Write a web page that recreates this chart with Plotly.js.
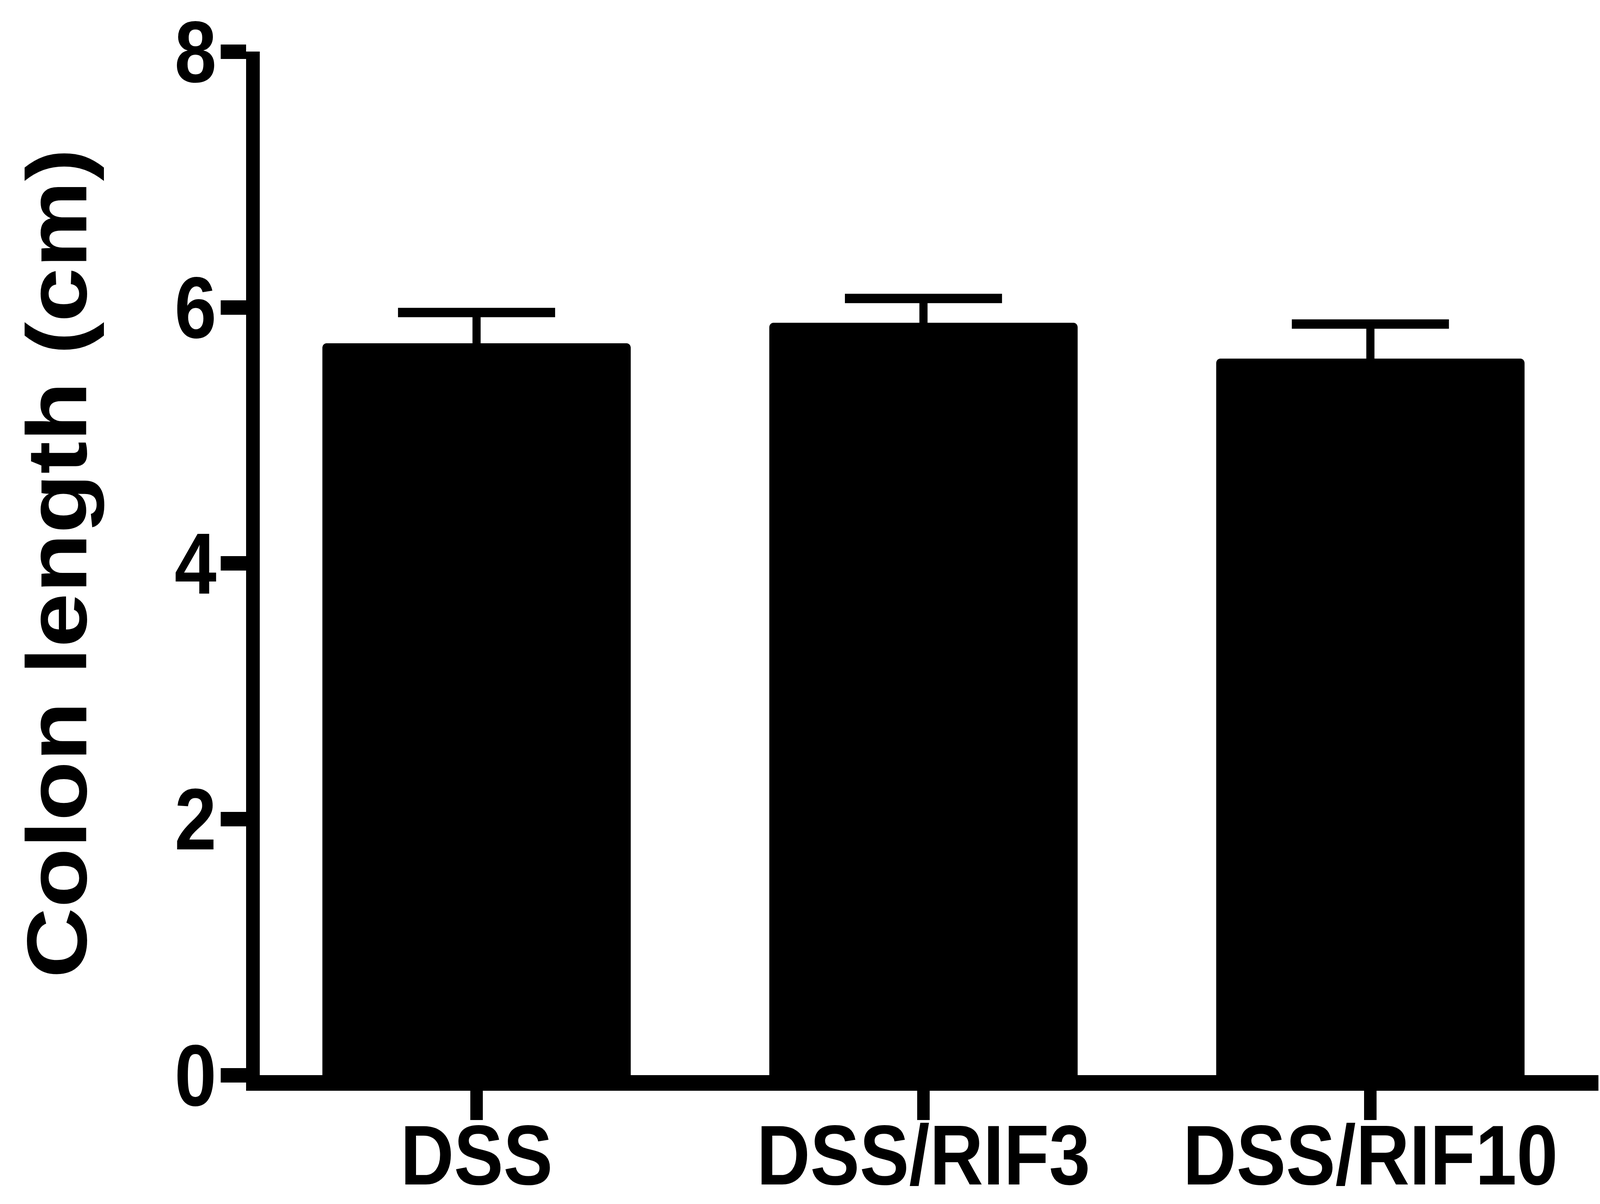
<!DOCTYPE html>
<html>
<head>
<meta charset="utf-8">
<script src="https://cdn.plot.ly/plotly-3.0.1.min.js"></script>
<style>html,body{margin:0;padding:0;background:#fff;overflow:hidden;}#chart{display:block;width:4705px;height:3083px;transform-origin:0 0;}</style>
</head>
<body>
<div id="chart"></div>
<script>
const categories = ["DSS", "DSS/RIF3", "DSS/RIF10"];
const colonLength = [5.72, 5.88, 5.60];
const sem = [0.24, 0.19, 0.27];
const yTickVals = [0, 2, 4, 6, 8];
const yTickText = ["0", "2", "4", "6", "8"];

const FONT = "Liberation Sans, Arial, Helvetica, sans-serif";

// the chart is laid out for a 4705 x 3083 canvas and fitted to the actual viewport
const BASE_W = 4705, BASE_H = 3083;
const vw = window.innerWidth || BASE_W;
const vh = window.innerHeight || BASE_H;
const chartDiv = document.getElementById("chart");
chartDiv.style.transform = "scale(" + (vw / BASE_W) + "," + (vh / BASE_H) + ")";

const trace = {
  type: "bar",
  x: categories,
  y: colonLength,
  width: 0.69,
  marker: { color: "#000000", line: { width: 0 }, cornerradius: 12 },
  error_y: { type: "data", array: sem, visible: true, color: "#000000", thickness: 24, width: 231 },
  showlegend: false,
  hoverinfo: "skip"
};

const layout = {
  width: BASE_W,
  height: BASE_H,
  paper_bgcolor: "#ffffff",
  plot_bgcolor: "#ffffff",
  margin: { l: 764, r: 5, t: 132, b: 330, pad: 0 },
  font: { family: FONT, color: "#000000", size: 222, weight: "bold" },
  xaxis: {
    type: "category",
    range: [-0.485, 2.51],
    showline: true,
    linewidth: 40,
    linecolor: "#000000",
    ticks: "outside",
    ticklen: 75,
    tickwidth: 37,
    tickcolor: "#000000",
    ticklabelstandoff: -97,
    showgrid: false,
    zeroline: false,
    tickfont: { family: FONT, size: 218, color: "#000000", weight: "bold" },
    automargin: false
  },
  yaxis: {
    range: [0, 8],
    tickvals: yTickVals,
    ticktext: yTickText,
    showline: true,
    linewidth: 40,
    linecolor: "#000000",
    ticks: "outside",
    ticklen: 75,
    tickwidth: 37,
    tickcolor: "#000000",
    ticklabelstandoff: -32,
    showgrid: false,
    zeroline: false,
    tickfont: { family: FONT, size: 222, color: "#000000", weight: "bold" },
    title: { text: "Colon length (cm)", font: { family: FONT, size: 250, color: "#000000", weight: "bold" }, standoff: 192 },
    automargin: false
  }
};

Plotly.newPlot("chart", [trace], layout, { staticPlot: true, displayModeBar: false });
</script>
</body>
</html>
